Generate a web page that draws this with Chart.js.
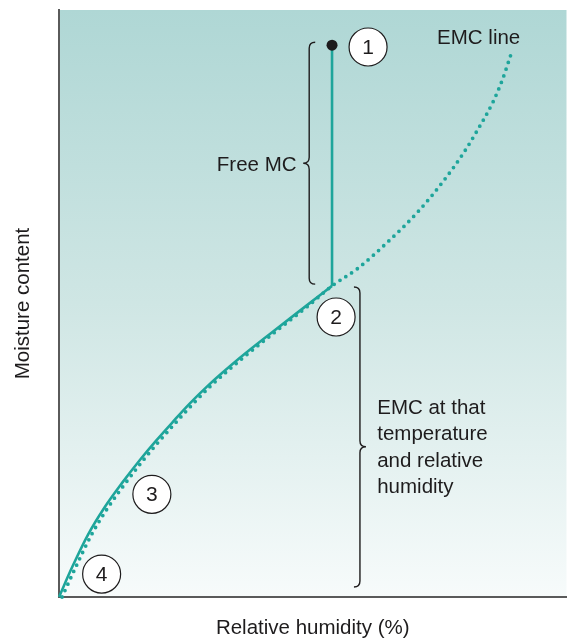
<!DOCTYPE html>
<html>
<head>
<meta charset="utf-8">
<script src="https://cdn.jsdelivr.net/npm/chart.js@4.4.1/dist/chart.umd.min.js"></script>
<style>
  html, body { margin: 0; padding: 0; background: #ffffff; }
  #wrap { width: 572px; height: 641px; position: relative; }
</style>
</head>
<body>
<div id="wrap"><canvas id="c" width="572" height="641"></canvas></div>
<script>
// ---- data (x = relative humidity units, y = moisture content units, 0..100 scales) ----
const xAxisTitle = "Relative humidity (%)";
const yAxisTitle = "Moisture content";

// EMC line (dotted)
const emcX = [0.6, 3.3, 6.4, 9.7, 13.1, 16.6, 19.8, 23.1, 26.4, 29.7, 36.2, 42.5, 49.1, 53.8, 58.9, 64.8, 70.7, 75.6, 79.6, 82.5, 85.5, 87.4, 89.0];
const emcY = [0.0, 5.1, 10.6, 15.3, 19.4, 23.3, 26.6, 29.8, 32.9, 35.8, 40.7, 45.1, 49.6, 53.0, 56.0, 60.5, 65.6, 70.7, 75.5, 79.6, 84.3, 88.2, 92.3];

// Drying path (solid): from stage 2 along the EMC down to stage 4
const pathX = [0.0, 2.6, 5.7, 9.0, 12.4, 15.9, 19.1, 22.4, 25.7, 29.1, 35.6, 42.0, 48.7, 53.8];
const pathY = [0.0, 5.1, 10.6, 15.3, 19.4, 23.3, 26.6, 29.8, 32.9, 35.8, 40.7, 45.1, 49.6, 53.0];
// Free water loss: stage 1 straight down to stage 2
const freeX = [53.8, 53.8];
const freeY = [53.0, 94.0];

// Numbered stages
const stageLabels = ["1", "2", "3", "4"];
const stageX = [60.9, 54.6, 18.3, 8.4];
const stageY = [93.7, 47.7, 17.5, 3.9];

// Annotation texts
const freeMcText = "Free MC";
const freeMcAt = [46.8, 73.5];
const emcLineText = "EMC line";
const emcLineAt = [74.5, 95.2];
const emcNoteLines = ["EMC at that", "temperature", "and relative", "humidity"];
const emcNoteAt = [62.7, 32.2];

// Braces: [x, yTop, yBottom, yTip]
const freeBrace = [49.3, 94.5, 53.3, 73.9];
const emcBrace = [59.3, 52.8, 1.7, 25.6];

const toPts = (xs, ys) => xs.map((x, i) => ({ x: x, y: ys[i] }));

const TEAL = "#1ea59b";
const INK = "#1e1c1d";
const FONT = "'Liberation Sans', Arial, Helvetica, sans-serif";

const bgPlugin = {
  id: "bg",
  beforeDraw(chart) {
    const { ctx, chartArea: a } = chart;
    const g = ctx.createLinearGradient(0, a.top, 0, a.bottom);
    g.addColorStop(0, "#afd7d5");
    g.addColorStop(0.5, "#cfe6e4");
    g.addColorStop(1, "#f7fbfb");
    ctx.save();
    ctx.fillStyle = g;
    ctx.fillRect(a.left, a.top, a.right - a.left, a.bottom - a.top);
    ctx.restore();
  }
};

function brace(ctx, x, yTop, yBot, yTip, dir) {
  const r = 6;
  ctx.beginPath();
  ctx.moveTo(x - dir * r, yTop);
  ctx.quadraticCurveTo(x, yTop, x, yTop + r);
  ctx.lineTo(x, yTip - r);
  ctx.quadraticCurveTo(x, yTip, x + dir * r, yTip);
  ctx.quadraticCurveTo(x, yTip, x, yTip + r);
  ctx.lineTo(x, yBot - r);
  ctx.quadraticCurveTo(x, yBot, x - dir * r, yBot);
  ctx.stroke();
}

const annoPlugin = {
  id: "anno",
  afterDatasetsDraw(chart) {
    const { ctx, scales: { x, y } } = chart;
    const px = v => x.getPixelForValue(v);
    const py = v => y.getPixelForValue(v);
    ctx.save();
    ctx.strokeStyle = INK;
    ctx.lineWidth = 1.4;
    brace(ctx, px(freeBrace[0]), py(freeBrace[1]), py(freeBrace[2]), py(freeBrace[3]), -1);
    brace(ctx, px(emcBrace[0]), py(emcBrace[1]), py(emcBrace[2]), py(emcBrace[3]), 1);

    ctx.fillStyle = INK;
    ctx.font = "20.5px " + FONT;
    ctx.textBaseline = "middle";
    ctx.textAlign = "right";
    ctx.fillText(freeMcText, px(freeMcAt[0]), py(freeMcAt[1]));
    ctx.textAlign = "left";
    ctx.fillText(emcLineText, px(emcLineAt[0]), py(emcLineAt[1]));
    emcNoteLines.forEach((t, i) => {
      ctx.fillText(t, px(emcNoteAt[0]), py(emcNoteAt[1]) + i * 26.5);
    });

    ctx.textAlign = "center";
    stageLabels.forEach((s, i) => {
      const cx = px(stageX[i]), cy = py(stageY[i]);
      ctx.beginPath();
      ctx.arc(cx, cy, 19, 0, Math.PI * 2);
      ctx.fillStyle = "#ffffff";
      ctx.fill();
      ctx.strokeStyle = INK;
      ctx.lineWidth = 1.2;
      ctx.stroke();
      ctx.fillStyle = INK;
      ctx.font = "21px " + FONT;
      ctx.fillText(s, cx, cy + 1);
    });
    ctx.restore();
  }
};

new Chart(document.getElementById("c"), {
  type: "scatter",
  data: {
    datasets: [
      {
        data: toPts(emcX, emcY),
        showLine: true,
        borderColor: TEAL,
        borderWidth: 3.8,
        borderDash: [0, 7],
        borderCapStyle: "round",
        cubicInterpolationMode: "monotone",
        pointRadius: 0,
        clip: false
      },
      {
        data: toPts(pathX, pathY),
        showLine: true,
        borderColor: TEAL,
        borderWidth: 2.6,
        cubicInterpolationMode: "monotone",
        pointRadius: 0,
        clip: false
      },
      {
        data: toPts(freeX, freeY),
        showLine: true,
        borderColor: TEAL,
        borderWidth: 2.6,
        pointRadius: [0, 5.5],
        pointBackgroundColor: INK,
        pointBorderWidth: 0,
        clip: false
      }
    ]
  },
  options: {
    responsive: false,
    animation: false,
    events: [],
    layout: { padding: { top: 10, right: 4, left: 0, bottom: 0 } },
    plugins: { legend: { display: false }, tooltip: { enabled: false } },
    scales: {
      x: {
        type: "linear", min: 0, max: 100,
        grid: { display: false },
        ticks: { display: false },
        border: { display: true, color: "#5a5a5a", width: 2 },
        title: { display: true, text: xAxisTitle, color: INK, font: { family: FONT, size: 20.5 }, padding: { top: 0, bottom: 0 } },
        afterFit(s) { s.height = 44; }
      },
      y: {
        type: "linear", min: 0, max: 100,
        grid: { display: false },
        ticks: { display: false },
        border: { display: true, color: "#5a5a5a", width: 2 },
        title: { display: true, text: yAxisTitle, color: INK, font: { family: FONT, size: 20.5 }, padding: { top: 11, bottom: 0 } },
        afterFit(s) { s.width = 59; }
      }
    }
  },
  plugins: [bgPlugin, annoPlugin]
});
</script>
</body>
</html>
